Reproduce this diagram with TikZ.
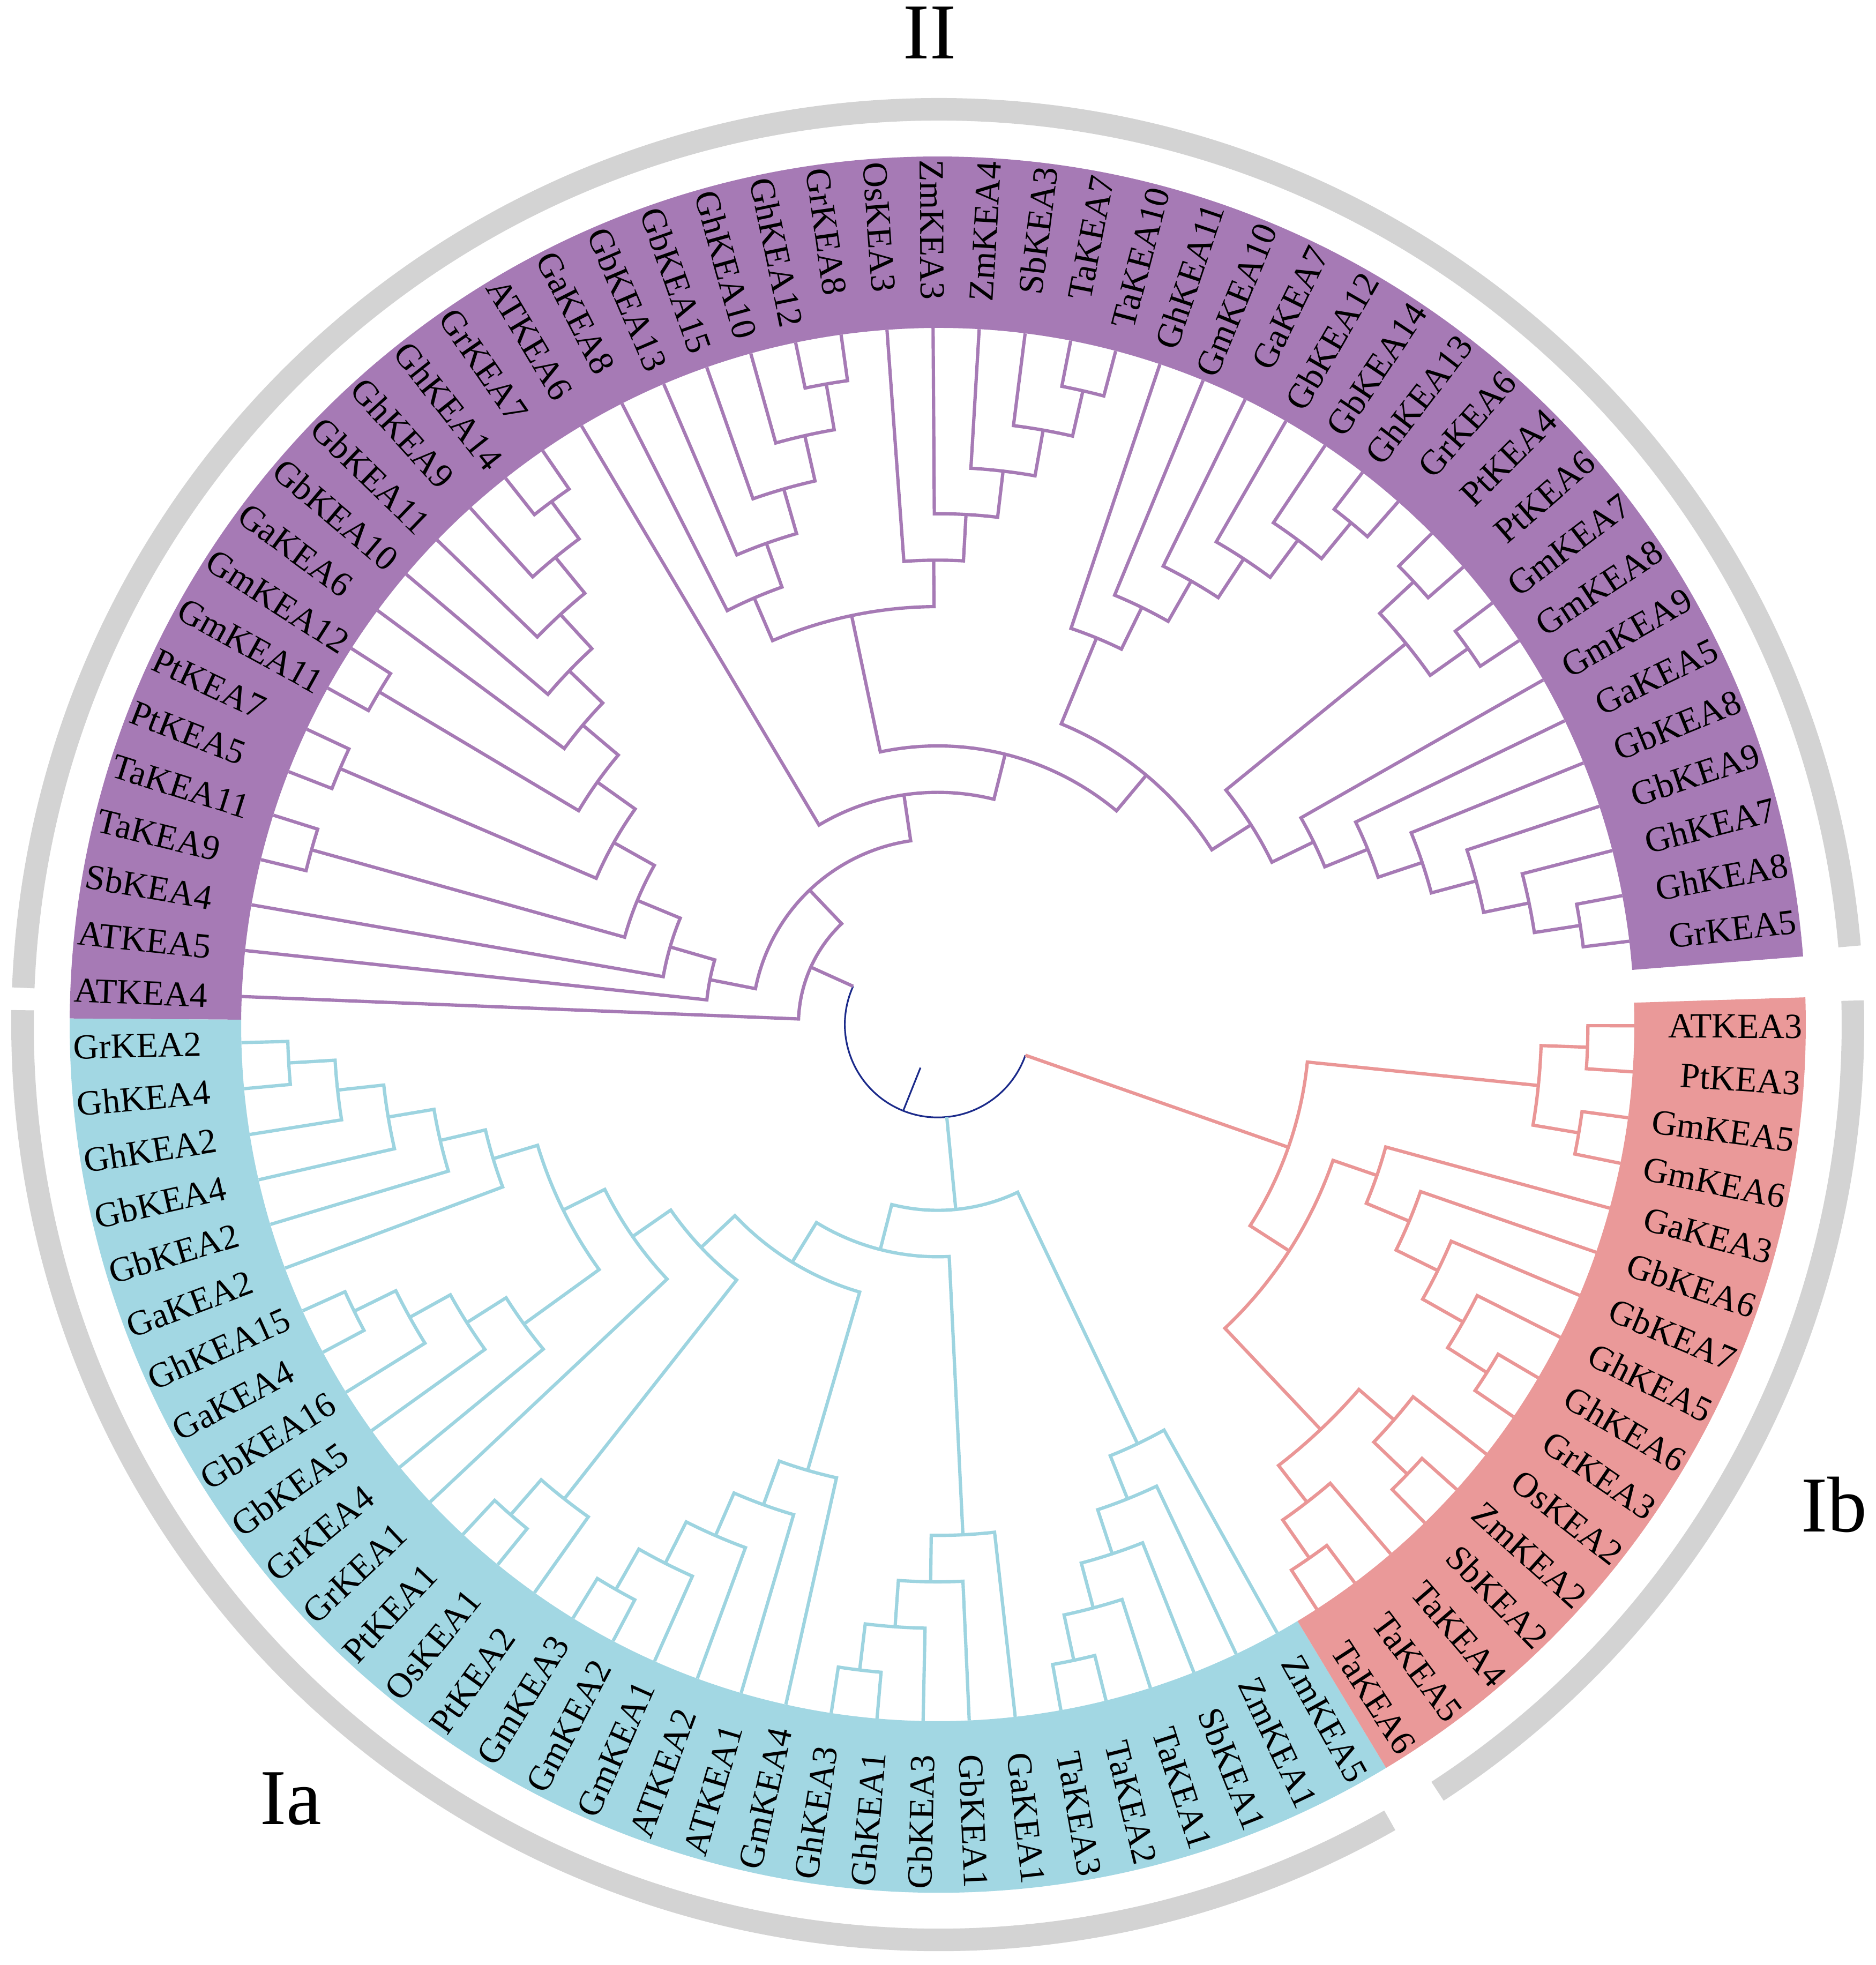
\documentclass[tikz,border=0pt]{standalone}
\usepackage{fontspec}
\setmainfont{Liberation Serif}
\definecolor{pub}{HTML}{A67AB5}
\definecolor{tlb}{HTML}{A2D7E3}
\definecolor{rdb}{HTML}{EA9999}
\definecolor{pul}{HTML}{A67AB5}
\definecolor{tll}{HTML}{9DD4E0}
\definecolor{rdl}{HTML}{EA9696}
\definecolor{blu}{HTML}{1B2A8A}
\definecolor{gry}{HTML}{D3D3D3}
\def\U{0.86667}
\def\RL{16.14}
% internal node: style, idxA, levelA, idxB, levelB, own level
\newcommand{\Nd}[6]{%
  \draw[#1] ({-0.1-3.796*(#2)}:{(#3)*\U}) -- ({-0.1-3.796*(#2)}:{(#6)*\U})
    arc[start angle={-0.1-3.796*(#2)}, end angle={-0.1-3.796*(#4)}, radius={(#6)*\U}]
    -- ({-0.1-3.796*(#4)}:{(#5)*\U});}
% radial: style, idx, from level, to level
\newcommand{\Rd}[4]{%
  \draw[#1] ({-0.1-3.796*(#2)}:{(#3)*\U}) -- ({-0.1-3.796*(#2)}:{(#4)*\U});}
% leaf label
\newcommand{\Lb}[2]{%
  \pgfmathsetmacro{\thA}{-0.1-3.796*#1}%
  \pgfmathsetmacro{\thB}{\thA+180}%
  \ifnum#1<24\relax
    \node[lab,anchor=east,rotate=\thA] (L#1) at (\thA:\RL) {#2};%
  \else\ifnum#1>71\relax
    \node[lab,anchor=east,rotate=\thA] (L#1) at (\thA:\RL) {#2};%
  \else
    \node[lab,anchor=west,rotate=\thB] (L#1) at (\thA:\RL) {#2};%
  \fi\fi}
\tikzset{
  pu/.style={draw=pul, line width=1.75pt},
  tl/.style={draw=tll, line width=1.75pt},
  rd/.style={draw=rdl, line width=1.75pt},
  bl/.style={draw=blu, line width=0.9pt},
  grarc/.style={draw=gry, line width=0.42cm},
  lab/.style={font=\fontsize{18.8}{20}\selectfont, inner sep=0pt, text height=12.8pt, text depth=0pt},
  big/.style={font=\fontsize{42}{48}\selectfont, inner sep=0pt}
}
\begin{document}
\begin{tikzpicture}
\useasboundingbox (-17.5,-17.55) rectangle (17.5,19.12);
\fill[white] (-17.5,-17.55) rectangle (17.5,19.12);

% coloured label bands
\fill[pub] (4.5:13.0) arc[start angle=4.5,end angle=179.6,radius=13.0] -- (179.6:16.2) arc[start angle=179.6,end angle=4.5,radius=16.2] -- cycle;
\fill[tlb] (-180.4:13.0) arc[start angle=-180.4,end angle=-58.9,radius=13.0] -- (-58.9:16.2) arc[start angle=-58.9,end angle=-180.4,radius=16.2] -- cycle;
\fill[rdb] (-58.9:13.0) arc[start angle=-58.9,end angle=1.8,radius=13.0] -- (1.8:16.2) arc[start angle=1.8,end angle=-58.9,radius=16.2] -- cycle;

% grey group arcs
\draw[grarc] (4.9:17.08) arc[start angle=4.9,end angle=177.7,radius=17.08];
\draw[grarc] (1.5:17.08) arc[start angle=1.5,end angle=-56.9,radius=17.08];
\draw[grarc] (-60.4:17.08) arc[start angle=-60.4,end angle=-180.9,radius=17.08];

% ===== root =====
\draw[bl] ({-0.1-3.796*53.8056640625}:{2*\U}) arc[start angle={-0.1-3.796*53.8056640625}, end angle={-0.1-3.796*5.0546875}, radius={2*\U}];
\Rd{bl}{29.43017578}{1}{2}
\Rd{pu}{53.8056640625}{2}{3}
\Rd{tl}{22.21337890625}{2}{4}
\Rd{rd}{5.0546875}{2}{8}

% ===== clade Ib (red) =====
\Nd{rd}{0}{15}{1}{15}{14}
\Nd{rd}{2}{15}{3}{15}{14}
\Nd{rd}{0.5}{14}{2.5}{14}{13}
\Nd{rd}{8}{15}{9}{15}{14}
\Nd{rd}{7}{15}{8.5}{14}{13}
\Nd{rd}{6}{15}{7.75}{13}{12}
\Nd{rd}{5}{15}{6.875}{12}{11}
\Nd{rd}{4}{15}{5.9375}{11}{10}
\Nd{rd}{11}{15}{12}{15}{14}
\Nd{rd}{10}{15}{11.5}{14}{13}
\Nd{rd}{14}{15}{15}{15}{14}
\Nd{rd}{13}{15}{14.5}{14}{13}
\Nd{rd}{10.75}{13}{13.75}{13}{12}
\Nd{rd}{4.96875}{10}{12.25}{12}{9}
\Nd{rd}{1.5}{13}{8.609375}{9}{8}

% ===== clade Ia (teal) =====
\Nd{tl}{20}{15}{21}{15}{14}
\Nd{tl}{19}{15}{20.5}{14}{13}
\Nd{tl}{18}{15}{19.75}{13}{12}
\Nd{tl}{17}{15}{18.875}{12}{11}
\Nd{tl}{16}{15}{17.9375}{11}{10}
\Nd{tl}{25}{15}{26}{15}{14}
\Nd{tl}{24}{15}{25.5}{14}{13}
\Nd{tl}{23}{15}{24.75}{13}{12}
\Nd{tl}{22}{15}{23.875}{12}{11}
\Nd{tl}{31}{15}{32}{15}{14}
\Nd{tl}{30}{15}{31.5}{14}{13}
\Nd{tl}{29}{15}{30.75}{13}{12}
\Nd{tl}{28}{15}{29.875}{12}{11}
\Nd{tl}{27}{15}{28.9375}{11}{10}
\Nd{tl}{34}{15}{35}{15}{14}
\Nd{tl}{33}{15}{34.5}{14}{13}
\Nd{tl}{46}{15}{47}{15}{14}
\Nd{tl}{45}{15}{46.5}{14}{13}
\Nd{tl}{44}{15}{45.75}{13}{12}
\Nd{tl}{43}{15}{44.875}{12}{11}
\Nd{tl}{42}{15}{43.9375}{11}{10}
\Nd{tl}{40}{15}{41}{15}{14}
\Nd{tl}{39}{15}{40.5}{14}{13}
\Nd{tl}{38}{15}{39.75}{13}{12}
\Nd{tl}{37}{15}{38.875}{12}{11}
\Nd{tl}{37.9375}{11}{42.96875}{10}{9}
\Nd{tl}{36}{15}{40.453125}{9}{8}
\Nd{tl}{33.75}{13}{38.2265625}{8}{7}
\Nd{tl}{27.96875}{10}{35.98828125}{7}{6}
\Nd{tl}{22.9375}{11}{31.978515625}{6}{5}
\Nd{tl}{16.96875}{10}{27.4580078125}{5}{4}

% ===== clade II (purple) =====
\Nd{pu}{51}{15}{52}{15}{14}
\Nd{pu}{53}{15}{54}{15}{14}
\Nd{pu}{55}{15}{56}{15}{14}
\Nd{pu}{61}{15}{62}{15}{14}
\Nd{pu}{60}{15}{61.5}{14}{13}
\Nd{pu}{59}{15}{60.75}{13}{12}
\Nd{pu}{58}{15}{59.875}{12}{11}
\Nd{pu}{57}{15}{58.9375}{11}{10}
\Nd{pu}{55.5}{14}{57.96875}{10}{9}
\Nd{pu}{53.5}{14}{56.734375}{9}{8}
\Nd{pu}{51.5}{14}{55.1171875}{8}{7}
\Nd{pu}{50}{15}{53.30859375}{7}{6}
\Nd{pu}{49}{15}{51.654296875}{6}{5}
\Nd{pu}{68}{15}{69}{15}{14}
\Nd{pu}{67}{15}{68.5}{14}{13}
\Nd{pu}{66}{15}{67.75}{13}{12}
\Nd{pu}{65}{15}{66.875}{12}{11}
\Nd{pu}{64}{15}{65.9375}{11}{10}
\Nd{pu}{74}{15}{75}{15}{14}
\Nd{pu}{73}{15}{74.5}{14}{13}
\Nd{pu}{72}{15}{73.75}{13}{12}
\Nd{pu}{71}{15}{72.875}{12}{11}
\Nd{pu}{70}{15}{71.9375}{11}{10}
\Nd{pu}{64.96875}{10}{70.96875}{10}{9}
\Nd{pu}{81}{15}{82}{15}{14}
\Nd{pu}{80}{15}{81.5}{14}{13}
\Nd{pu}{79}{15}{80.75}{13}{12}
\Nd{pu}{78}{15}{79.875}{12}{11}
\Nd{pu}{77}{15}{78.9375}{11}{10}
\Nd{pu}{76}{15}{77.96875}{10}{9}
\Nd{pu}{83}{15}{84}{15}{14}
\Nd{pu}{85}{15}{86}{15}{14}
\Nd{pu}{83.5}{14}{85.5}{14}{13}
\Nd{pu}{92}{15}{93}{15}{14}
\Nd{pu}{91}{15}{92.5}{14}{13}
\Nd{pu}{90}{15}{91.75}{13}{12}
\Nd{pu}{89}{15}{90.875}{12}{11}
\Nd{pu}{88}{15}{89.9375}{11}{10}
\Nd{pu}{87}{15}{88.96875}{10}{9}
\Nd{pu}{84.5}{13}{87.984375}{9}{8}
\Nd{pu}{76.984375}{9}{86.2421875}{8}{7}
\Nd{pu}{67.96875}{9}{81.61328125}{7}{6}
\Nd{pu}{63}{15}{74.791015625}{6}{5}
\Nd{pu}{50.3271484375}{5}{68.8955078125}{5}{4}
\Nd{pu}{48}{15}{59.611328125}{4}{3}

% ===== leaf labels =====
\Lb{0}{ATKEA3}\Lb{1}{PtKEA3}\Lb{2}{GmKEA5}\Lb{3}{GmKEA6}\Lb{4}{GaKEA3}
\Lb{5}{GbKEA6}\Lb{6}{GbKEA7}\Lb{7}{GhKEA5}\Lb{8}{GhKEA6}\Lb{9}{GrKEA3}
\Lb{10}{OsKEA2}\Lb{11}{ZmKEA2}\Lb{12}{SbKEA2}\Lb{13}{TaKEA4}\Lb{14}{TaKEA5}
\Lb{15}{TaKEA6}
\Lb{16}{ZmKEA5}\Lb{17}{ZmKEA1}\Lb{18}{SbKEA1}\Lb{19}{TaKEA1}\Lb{20}{TaKEA2}
\Lb{21}{TaKEA3}\Lb{22}{GaKEA1}\Lb{23}{GbKEA1}\Lb{24}{GbKEA3}\Lb{25}{GhKEA1}
\Lb{26}{GhKEA3}\Lb{27}{GmKEA4}\Lb{28}{ATKEA1}\Lb{29}{ATKEA2}\Lb{30}{GmKEA1}
\Lb{31}{GmKEA2}\Lb{32}{GmKEA3}\Lb{33}{PtKEA2}\Lb{34}{OsKEA1}\Lb{35}{PtKEA1}
\Lb{36}{GrKEA1}\Lb{37}{GrKEA4}\Lb{38}{GbKEA5}\Lb{39}{GbKEA16}\Lb{40}{GaKEA4}
\Lb{41}{GhKEA15}\Lb{42}{GaKEA2}\Lb{43}{GbKEA2}\Lb{44}{GbKEA4}\Lb{45}{GhKEA2}
\Lb{46}{GhKEA4}\Lb{47}{GrKEA2}
\Lb{48}{ATKEA4}\Lb{49}{ATKEA5}\Lb{50}{SbKEA4}\Lb{51}{TaKEA9}\Lb{52}{TaKEA11}
\Lb{53}{PtKEA5}\Lb{54}{PtKEA7}\Lb{55}{GmKEA11}\Lb{56}{GmKEA12}\Lb{57}{GaKEA6}
\Lb{58}{GbKEA10}\Lb{59}{GbKEA11}\Lb{60}{GhKEA9}\Lb{61}{GhKEA14}\Lb{62}{GrKEA7}
\Lb{63}{ATKEA6}\Lb{64}{GaKEA8}\Lb{65}{GbKEA13}\Lb{66}{GbKEA15}\Lb{67}{GhKEA10}
\Lb{68}{GhKEA12}\Lb{69}{GrKEA8}\Lb{70}{OsKEA3}\Lb{71}{ZmKEA3}\Lb{72}{ZmKEA4}
\Lb{73}{SbKEA3}\Lb{74}{TaKEA7}\Lb{75}{TaKEA10}\Lb{76}{GhKEA11}\Lb{77}{GmKEA10}
\Lb{78}{GaKEA7}\Lb{79}{GbKEA12}\Lb{80}{GbKEA14}\Lb{81}{GhKEA13}\Lb{82}{GrKEA6}
\Lb{83}{PtKEA4}\Lb{84}{PtKEA6}\Lb{85}{GmKEA7}\Lb{86}{GmKEA8}\Lb{87}{GmKEA9}
\Lb{88}{GaKEA5}\Lb{89}{GbKEA8}\Lb{90}{GbKEA9}\Lb{91}{GhKEA7}\Lb{92}{GhKEA8}
\Lb{93}{GrKEA5}

% ===== group labels =====
\node[big,anchor=base] (gII) at (-0.15,18.02) {II};
\node[big,anchor=base] (gIb) at (16.73,-9.46) {Ib};
\node[big,anchor=base] (gIa) at (-12.07,-14.92) {Ia};
\end{tikzpicture}
\end{document}
